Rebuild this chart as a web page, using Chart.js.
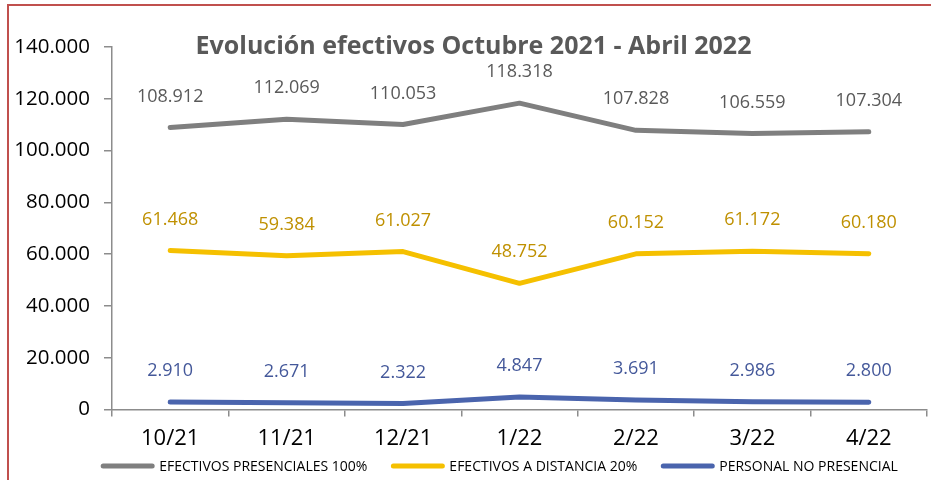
<!DOCTYPE html>
<html>
<head>
<meta charset="utf-8">
<script src="https://cdn.jsdelivr.net/npm/chart.js@4"></script>
<style>
  body { margin: 0; background: #fff; }
  #wrap { position: relative; width: 931px; height: 480px; }
  #frame { position: absolute; left: 7px; top: 4px; width: 940px; height: 500px; border: 2px solid #c0504d; box-sizing: border-box; }
  canvas { position: absolute; left: 0; top: 0; }
</style>
</head>
<body>
<div id="wrap">
  <div id="frame"></div>
  <canvas id="chart" width="931" height="480"></canvas>
</div>
<script>
// months and series
const months = ['10/21', '11/21', '12/21', '1/22', '2/22', '3/22', '4/22'];
const presenciales = [108912, 112069, 110053, 118318, 107828, 106559, 107304];
const distancia = [61468, 59384, 61027, 48752, 60152, 61172, 60180];
const noPresencial = [2910, 2671, 2322, 4847, 3691, 2986, 2800];
const yTicks = [0, 20000, 40000, 60000, 80000, 100000, 120000, 140000];

const FONT = 'Open Sans';

function fmt(v) {
    return String(v).replace(/\B(?=(\d{3})+(?!\d))/g, '.');
}

// value labels above each point
const valueLabels = {
    id: 'valueLabels',
    afterDatasetsDraw(chart) {
        const ctx = chart.ctx;
        ctx.save();
        ctx.font = '18px "' + FONT + '"';
        ctx.textAlign = 'center';
        ctx.textBaseline = 'middle';
        chart.data.datasets.forEach((ds, i) => {
            const meta = chart.getDatasetMeta(i);
            ctx.fillStyle = ds.labelColor;
            meta.data.forEach((pt, j) => {
                ctx.fillText(fmt(ds.data[j]), pt.x, pt.y - 31);
            });
        });
        ctx.restore();
    }
};

// title drawn over the plot, like the original
const overlayTitle = {
    id: 'overlayTitle',
    afterDraw(chart) {
        const ctx = chart.ctx;
        ctx.save();
        ctx.font = 'bold 25px "' + FONT + '"';
        ctx.fillStyle = '#595959';
        ctx.textAlign = 'center';
        ctx.textBaseline = 'middle';
        ctx.fillText('Evolución efectivos Octubre 2021 - Abril 2022', chart.width / 2 + 8, chart.chartArea.top);
        ctx.restore();
    }
};

// legend row under the axis: thick rounded swatch + text
const lineLegend = {
    id: 'lineLegend',
    afterDraw(chart) {
        const ctx = chart.ctx;
        const swatch = 53, gapText = 5, gapItem = 24;
        ctx.save();
        ctx.font = '14px "' + FONT + '"';
        ctx.textBaseline = 'middle';
        const items = chart.data.datasets.map(ds => ({ ds, w: ctx.measureText(ds.label).width }));
        let total = 0;
        items.forEach((it, i) => { total += swatch + gapText + it.w + (i < items.length - 1 ? gapItem : 0); });
        let x = chart.width / 2 + 34 - total / 2;
        const y = chart.height - 14;
        items.forEach(it => {
            ctx.strokeStyle = it.ds.borderColor;
            ctx.lineWidth = 5;
            ctx.lineCap = 'round';
            ctx.beginPath();
            ctx.moveTo(x + 2, y);
            ctx.lineTo(x + swatch - 2, y);
            ctx.stroke();
            ctx.fillStyle = '#000';
            ctx.fillText(it.ds.label, x + swatch + gapText, y + 1);
            x += swatch + gapText + it.w + gapItem;
        });
        ctx.restore();
    }
};

const ctx = document.getElementById('chart').getContext('2d');

new Chart(ctx, {
    type: 'line',
    data: {
        labels: months,
        datasets: [
            {
                label: 'EFECTIVOS PRESENCIALES 100%',
                data: presenciales,
                borderColor: '#7f7f7f',
                labelColor: '#595959'
            },
            {
                label: 'EFECTIVOS A DISTANCIA 20%',
                data: distancia,
                borderColor: '#f5c000',
                labelColor: '#bf9000'
            },
            {
                label: 'PERSONAL NO PRESENCIAL',
                data: noPresencial,
                borderColor: '#4a64ad',
                labelColor: '#44589a'
            }
        ]
    },
    options: {
        responsive: false,
        animation: false,
        layout: { padding: { top: 47, right: 4, bottom: 19, left: 0 } },
        elements: {
            line: { borderWidth: 5, tension: 0, borderCapStyle: 'round', borderJoinStyle: 'round' },
            point: { radius: 0, hoverRadius: 0 }
        },
        scales: {
            x: {
                offset: true,
                grid: { offset: true, drawOnChartArea: false, tickLength: 7, color: '#8c8c8c', lineWidth: 1.5 },
                border: { color: '#8c8c8c', width: 1.5 },
                ticks: { color: '#000', font: { family: FONT, size: 22 }, padding: 9 }
            },
            y: {
                min: 0,
                max: 140000,
                afterBuildTicks(scale) {
                    scale.ticks = yTicks.map(v => ({ value: v }));
                },
                afterFit(scale) {
                    scale.width = 112;
                },
                grid: { drawOnChartArea: false, tickLength: 8, color: '#8c8c8c', lineWidth: 1.5 },
                border: { color: '#8c8c8c', width: 1.5 },
                ticks: {
                    color: '#000',
                    font: { family: FONT, size: 20.5 },
                    padding: 14,
                    callback: v => fmt(v)
                }
            }
        },
        plugins: {
            legend: { display: false },
            tooltip: { enabled: false }
        }
    },
    plugins: [valueLabels, overlayTitle, lineLegend]
});
</script>
</body>
</html>
